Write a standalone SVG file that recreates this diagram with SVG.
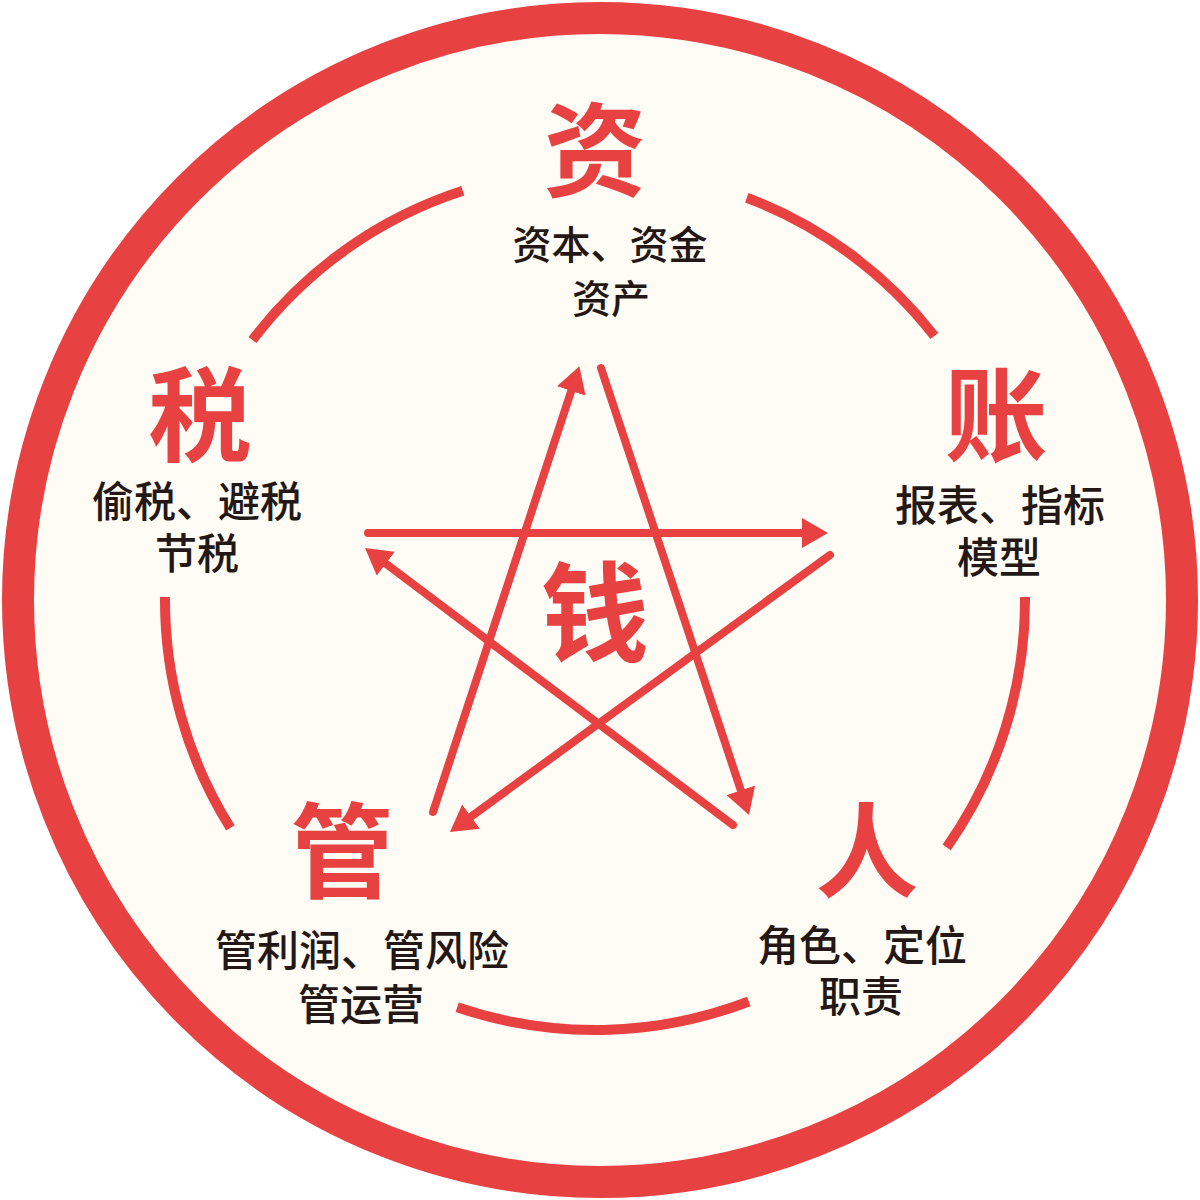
<svg xmlns="http://www.w3.org/2000/svg" width="1200" height="1200" viewBox="0 0 1200 1200">
<style>
.big{font-family:"Noto Sans CJK SC","Noto Sans",sans-serif;font-weight:700;fill:#E84142;text-anchor:middle}
.sub{font-family:"Noto Sans CJK SC","Noto Sans",sans-serif;font-weight:500;fill:#231815;text-anchor:middle}
.arc{fill:none;stroke:#E84142;stroke-width:10}
.star{fill:none;stroke:#E84142;stroke-width:8;stroke-linecap:round}
</style>
<defs>
<marker id="ah" viewBox="0 0 26 30" markerUnits="userSpaceOnUse" markerWidth="26" markerHeight="30" refX="12" refY="15" orient="auto">
<path d="M0,0 L26,15 L0,30 Z" fill="#E84142"/>
</marker>
</defs>
<rect width="1200" height="1200" fill="#FFFFFF"/>
<circle id="ring" cx="600" cy="600" r="582" fill="#FFFCF5" stroke="#E84142" stroke-width="32"/>
<g id="cycle">
<path class="arc" d="M1025,597 A430,430 0 0 1 946.7,847.4"/>
<path class="arc" d="M748.8,1001.5 A430,430 0 0 1 457.2,1007.3"/>
<path class="arc" d="M230.4,827.9 A430,430 0 0 1 165,597"/>
<path class="arc" d="M252.5,340 A430,430 0 0 1 462.8,190.8"/>
<path class="arc" d="M746.8,197.7 A430,430 0 0 1 934.4,336"/>
</g>
<g id="connectors">
<line class="star" x1="433" y1="812" x2="575" y2="379.5" marker-end="url(#ah)"/>
<line class="star" x1="601" y1="368" x2="744.6" y2="801.7" marker-end="url(#ah)"/>
<line class="star" x1="368" y1="533" x2="814" y2="533" marker-end="url(#ah)"/>
<line class="star" x1="830" y1="555" x2="461.3" y2="823.7" marker-end="url(#ah)"/>
<line class="star" x1="733" y1="825" x2="376.2" y2="556.4" marker-end="url(#ah)"/>
</g>
<g id="node-qian">
<text class="big" x="595" y="653" font-size="108">钱</text>
</g>
<g id="node-zi">
<text class="big" x="595" y="189" font-size="103">资</text>
<text class="sub" x="610" y="259" font-size="39">资本、资金</text>
<text class="sub" x="611" y="313" font-size="39">资产</text>
</g>
<g id="node-zhang">
<text class="big" x="996" y="454" font-size="103">账</text>
<text class="sub" x="1000" y="521" font-size="42">报表、指标</text>
<text class="sub" x="999" y="573" font-size="42">模型</text>
</g>
<g id="node-shui">
<text class="big" x="200" y="454" font-size="103">税</text>
<text class="sub" x="197" y="517" font-size="42">偷税、避税</text>
<text class="sub" x="197" y="569" font-size="42">节税</text>
</g>
<g id="node-guan">
<text class="big" x="342" y="890" font-size="103">管</text>
<text class="sub" x="362" y="966" font-size="42">管利润、管风险</text>
<text class="sub" x="361" y="1020" font-size="42">管运营</text>
</g>
<g id="node-ren">
<text class="big" x="867" y="890" font-size="103">人</text>
<text class="sub" x="862" y="961" font-size="42">角色、定位</text>
<text class="sub" x="861" y="1012" font-size="42">职责</text>
</g>
</svg>
